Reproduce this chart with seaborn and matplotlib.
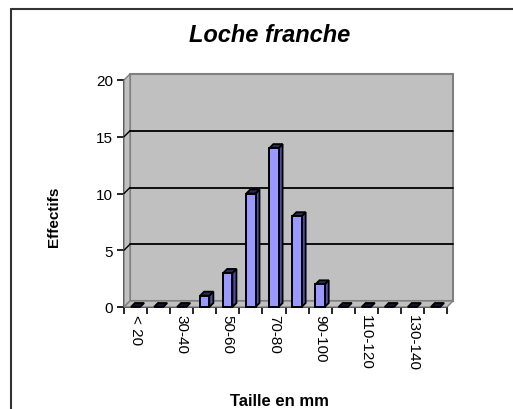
import matplotlib
matplotlib.use("Agg")
import matplotlib.pyplot as plt
import seaborn as sns
import numpy as np
from matplotlib.patches import Polygon
from matplotlib.lines import Line2D

# Size classes (mm) and counts
categories = ["< 20", "20-30", "30-40", "40-50", "50-60", "60-70", "70-80",
              "80-90", "90-100", "100-110", "110-120", "120-130", "130-140", "> 140"]
counts = [0, 0, 0, 1, 3, 10, 14, 8, 2, 0, 0, 0, 0, 0]
y_ticks = [0, 5, 10, 15, 20]

title = "Loche franche"
x_title = "Taille en mm"
y_title = "Effectifs"

sns.set_theme(style="white")
plt.rcParams["font.family"] = ["Liberation Sans", "DejaVu Sans"]

W, H, DPI = 513, 410, 100
fig = plt.figure(figsize=(W / DPI, H / DPI), dpi=DPI)
fig.patch.set_facecolor("white")

# axes box in pixels: x 124..447, y (from top) 81..308
ax = fig.add_axes([124 / W, (H - 308) / H, (447 - 124) / W, (308 - 81) / H])
ax.set_facecolor("none")

sns.barplot(x=categories, y=counts, color="#9999FF", width=0.4,
            saturation=1, ax=ax, zorder=5)
ax.set_xlim(-0.5, len(categories) - 0.5)
ax.set_ylim(0, 20)

to_disp = ax.transData.transform

# wall depth (pixels) and bar depth
WD = 6
BD = 4

x0, x1 = -0.5, len(categories) - 0.5
(px0, py0) = to_disp((x0, 0))
(px1, py1) = to_disp((x1, 20))

wall_face = "#C0C0C0"
wall_edge = "#808080"

def poly(pts, **kw):
    p = Polygon(pts, closed=True, transform=None, **kw)
    fig.add_artist(p)
    return p

# back wall
poly([(px0 + WD, py0 + WD), (px1 + WD, py0 + WD), (px1 + WD, py1 + WD), (px0 + WD, py1 + WD)],
     facecolor=wall_face, edgecolor=wall_edge, lw=1.5, zorder=0.5)
# left side wall
poly([(px0, py0), (px0 + WD, py0 + WD), (px0 + WD, py1 + WD), (px0, py1)],
     facecolor=wall_face, edgecolor=wall_edge, lw=1.0, zorder=0.6)
# floor
poly([(px0, py0), (px1, py0), (px1 + WD, py0 + WD), (px0 + WD, py0 + WD)],
     facecolor=wall_face, edgecolor=wall_edge, lw=1.0, zorder=0.6)

# gridlines on the walls
for v in y_ticks[1:-1]:
    _, gy = to_disp((x0, v))
    fig.add_artist(Line2D([px0 + WD, px1 + WD], [gy + WD, gy + WD], transform=None,
                          color="black", lw=1.3, zorder=0.7))
    fig.add_artist(Line2D([px0, px0 + WD], [gy, gy + WD], transform=None,
                          color="black", lw=1.0, zorder=0.7))

# 3D faces for each bar, built from the bar patches
for patch in list(ax.patches):
    bx, by = patch.get_x(), patch.get_y()
    bw, bh = patch.get_width(), patch.get_height()
    (lx, ly) = to_disp((bx, by))
    (rx, ty) = to_disp((bx + bw, by + bh))
    # side face
    if bh > 0:
        poly([(rx, ly), (rx + BD, ly + BD), (rx + BD, ty + BD), (rx, ty)],
             facecolor="#4E4EA6", edgecolor="black", lw=1.3, zorder=1.2)
    # top face
    poly([(lx, ty), (rx, ty), (rx + BD, ty + BD), (lx + BD, ty + BD)],
         facecolor="#2A2A5A" if bh > 0 else "#15152A", edgecolor="black", lw=1.3, zorder=1.2)
    # front face
    if bh > 0:
        poly([(lx, ly), (rx, ly), (rx, ty), (lx, ty)], facecolor="#9999FF",
             edgecolor="black", lw=1.4, zorder=1.3)
    patch.set_visible(False)

# axes lines and ticks
for s in ["top", "right"]:
    ax.spines[s].set_visible(False)
for s in ["left", "bottom"]:
    ax.spines[s].set_color("black")
    ax.spines[s].set_linewidth(1.3)
    ax.spines[s].set_zorder(10)

ax.set_yticks(y_ticks)
ax.set_yticklabels([str(v) for v in y_ticks], fontsize=11, color="black")
ax.tick_params(axis="y", direction="out", length=5, width=1.2, color="black", pad=3, left=True)

label_pos = list(range(0, len(categories), 2))
ax.set_xticks(label_pos)
ax.set_xticklabels([categories[i] for i in label_pos], rotation=270, fontsize=11,
                   color="black", ha="center", va="top")
ax.tick_params(axis="x", which="major", length=0, pad=5)
ax.set_xticks(np.arange(-0.5, len(categories), 1.0), minor=True)
ax.tick_params(axis="x", which="minor", direction="out", length=5, width=1.2,
               color="black", bottom=True)
ax.set_xlabel("")
ax.set_ylabel("")

# titles
fig.text(270 / W, 1 - 35 / H, title, fontsize=17, fontweight="bold", fontstyle="italic",
         ha="center", va="center", color="black")
fig.text(279 / W, 1 - 402 / H, x_title, fontsize=12, fontweight="bold",
         ha="center", va="center", color="black")
fig.text(54 / W, 1 - 217 / H, y_title, fontsize=11, fontweight="bold", rotation=90,
         ha="center", va="center", color="black")

# chart area border (top and left edges)
fig.add_artist(Line2D([11 / W, 11 / W], [0, 1 - 10 / H], transform=fig.transFigure,
                      color="#333333", lw=1.5))
fig.add_artist(Line2D([11 / W, 1], [1 - 10 / H, 1 - 10 / H], transform=fig.transFigure,
                      color="#333333", lw=1.5))

fig.savefig("out.png", dpi=DPI)
